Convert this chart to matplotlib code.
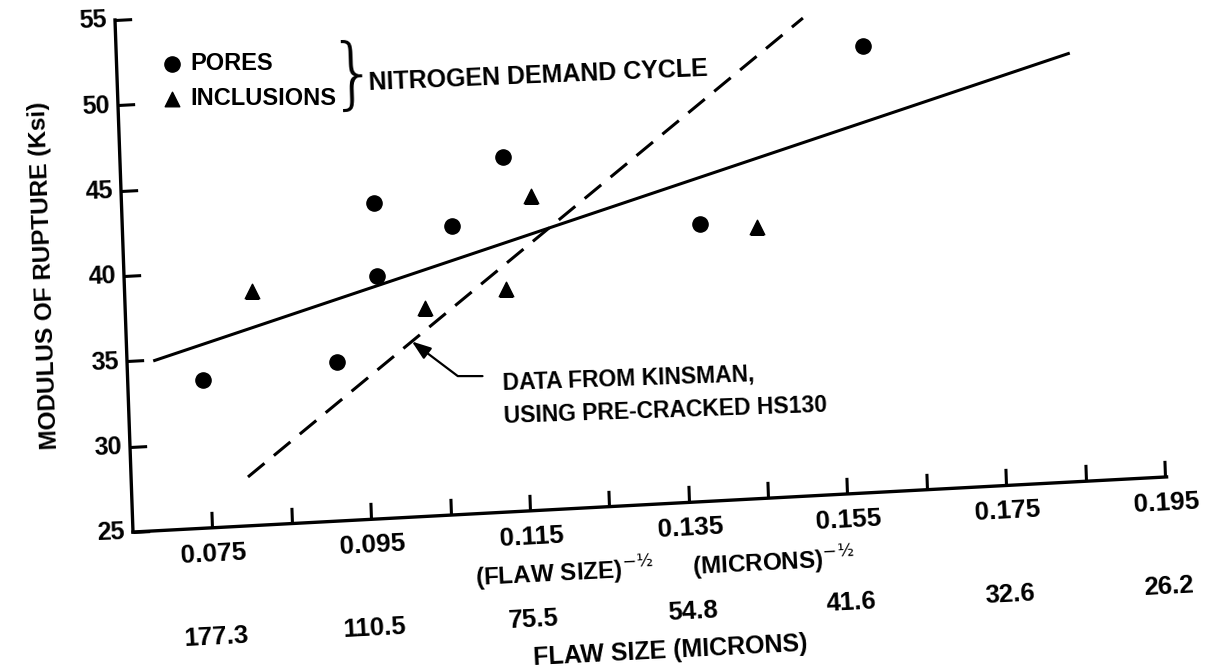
import numpy as np
import matplotlib
matplotlib.use("Agg")
import matplotlib.pyplot as plt
from matplotlib.transforms import Affine2D
from mpl_toolkits.axisartist import floating_axes
from mpl_toolkits.axisartist.grid_finder import FixedLocator, DictFormatter

# ---------------- data ----------------
pores_x = [0.0745, 0.0914, 0.0968, 0.0968, 0.1065, 0.1132, 0.1377, 0.1589]
pores_y = [33.7, 34.3, 39.2, 43.5, 41.9, 45.8, 41.25, 51.15]

inclusions_x = [0.0810, 0.1027, 0.1130, 0.1165, 0.1448]
inclusions_y = [38.7, 37.2, 38.05, 43.4, 40.9]

# least-squares line through the nitrogen demand cycle data
fit_x = [0.0683, 0.1849]
fit_y = [34.94, 50.09]

# Kinsman pre-cracked HS130 trend
kinsman_x = [0.0797, 0.1515]
kinsman_y = [27.86, 52.97]

x_ticks = [0.075, 0.085, 0.095, 0.105, 0.115, 0.125, 0.135,
           0.145, 0.155, 0.165, 0.175, 0.185, 0.195]
x_labelled = [0.075, 0.095, 0.115, 0.135, 0.155, 0.175, 0.195]
x_tick_text = ["0.075", "0.095", "0.115", "0.135", "0.155", "0.175", "0.195"]
flaw_size_text = ["177.3", "110.5", "75.5", "54.8", "41.6", "32.6", "26.2"]
y_ticks = [25, 30, 35, 40, 45, 50, 55]

# ---------------- layout ----------------
W, H = 1207, 671
fig = plt.figure(figsize=(W / 100, H / 100), dpi=100)
fig.patch.set_facecolor("white")

FONT = ["Liberation Sans", "DejaVu Sans"]
TXT = dict(family=FONT, fontweight="bold", color="black")

X0, X1, Y0, Y1 = 0.065, 0.195, 25.0, 55.0
# the printed frame sits slightly skewed on the page: place its corners
origin = np.array([133.0, H - 532.0])
x_end = np.array([1165.0, H - 477.0])
y_end = np.array([115.0, H - 20.0])
ex = (x_end - origin) / (X1 - X0)
ey = (y_end - origin) / (Y1 - Y0)
off = origin - ex * X0 - ey * Y0
skew = Affine2D(np.array([[ex[0], ey[0], off[0]],
                          [ex[1], ey[1], off[1]],
                          [0.0, 0.0, 1.0]]))

grid_helper = floating_axes.GridHelperCurveLinear(
    skew,
    extremes=(X0, X1 + 0.0002, Y0 - 0.001, Y1 + 0.001),
    grid_locator1=FixedLocator(x_ticks),
    tick_formatter1=DictFormatter(dict(zip(x_labelled, x_tick_text))),
    grid_locator2=FixedLocator(y_ticks),
    tick_formatter2=DictFormatter({v: str(v) for v in y_ticks}),
)
ax = fig.add_axes([0, 0, 1, 1], axes_class=floating_axes.FloatingAxes,
                  grid_helper=grid_helper)
ax.set_xlim(0, W)
ax.set_ylim(0, H)
aux = ax.get_aux_axes(skew)
aux.patch = ax.patch
ax.patch.zorder = 0.9

ax.axis["top"].set_visible(False)
ax.axis["right"].set_visible(False)
for side, size, pad in (("bottom", 19, 11), ("left", 18, 6)):
    a = ax.axis[side]
    a.line.set_linewidth(2.4)
    a.major_ticks.set_tick_out(False)
    a.major_ticks.set_ticksize(12)
    a.major_ticks.set_markeredgewidth(2.2)
    a.major_ticklabels.set_fontsize(size)
    a.major_ticklabels.set_fontfamily(FONT)
    a.major_ticklabels.set_fontweight("bold")
    a.major_ticklabels.set_pad(pad)

# ---------------- marks ----------------
pores = aux.scatter(pores_x, pores_y, s=120, marker="o", color="black",
                    zorder=3, label="PORES")
inclusions = aux.scatter(inclusions_x, inclusions_y, s=110, marker="^",
                         color="black", zorder=3, label="INCLUSIONS")
aux.plot(fit_x, fit_y, color="black", lw=2.2, solid_capstyle="butt")
aux.plot(kinsman_x, kinsman_y, color="black", lw=2.2, dashes=(7, 4))

# arrow from the note to the Kinsman line
tip_x = 0.1009
tip_y = np.interp(tip_x, kinsman_x, kinsman_y)
aux.annotate("DATA FROM KINSMAN,\nUSING PRE-CRACKED HS130",
             xy=(tip_x, tip_y), xytext=(0.1121, 31.6),
             ha="left", va="center", fontsize=16.5, linespacing=1.6,
             rotation=2, rotation_mode="anchor", **TXT,
             arrowprops=dict(arrowstyle="-|>,head_length=0.7,head_width=0.25",
                             color="black", lw=1.6,
                             connectionstyle="angle,angleA=0,angleB=-37,rad=0",
                             relpos=(0.0, 0.76), shrinkA=12, shrinkB=0))

# legend with the brace naming the test cycle
leg = ax.legend(handles=[pores, inclusions], loc="upper left",
                bbox_to_anchor=(163 / W, 1 - 52 / H), frameon=False,
                handlelength=0.8, handletextpad=0.35, labelspacing=0.5,
                borderpad=0, borderaxespad=0, markerscale=1.0,
                prop=dict(family=FONT, weight="bold", size=17))
ax.text(353, H - 77, "}", fontsize=56, family="DejaVu Sans",
        fontweight="light", ha="center", va="center", rotation=2)
ax.text(369, H - 83, "NITROGEN DEMAND CYCLE", fontsize=18, ha="left",
        va="center", rotation=2.4, rotation_mode="anchor", **TXT)

# ---------------- axis titles ----------------
fig.text(44 / W, 1 - 276 / H, "MODULUS OF RUPTURE (Ksi)", fontsize=17.5,
         rotation=92, ha="center", va="center", rotation_mode="anchor", **TXT)
for xv, s in zip(x_labelled, flaw_size_text):
    aux.text(xv, 18.6, s, fontsize=18.5, ha="center", va="center",
             rotation=3, rotation_mode="anchor", **TXT)
aux.text(0.1078, 21.3, r"(FLAW SIZE)$^{-½}$", fontsize=17.5, ha="left",
         va="center", rotation=3, rotation_mode="anchor", **TXT)
aux.text(0.1351, 21.3, r"(MICRONS)$^{-½}$", fontsize=17.5, ha="left",
         va="center", rotation=3, rotation_mode="anchor", **TXT)
aux.text(0.1320, 16.35, "FLAW SIZE (MICRONS)", fontsize=18, ha="center",
         va="center", rotation=3, rotation_mode="anchor", **TXT)

fig.savefig("out.png", dpi=100, facecolor="white")
